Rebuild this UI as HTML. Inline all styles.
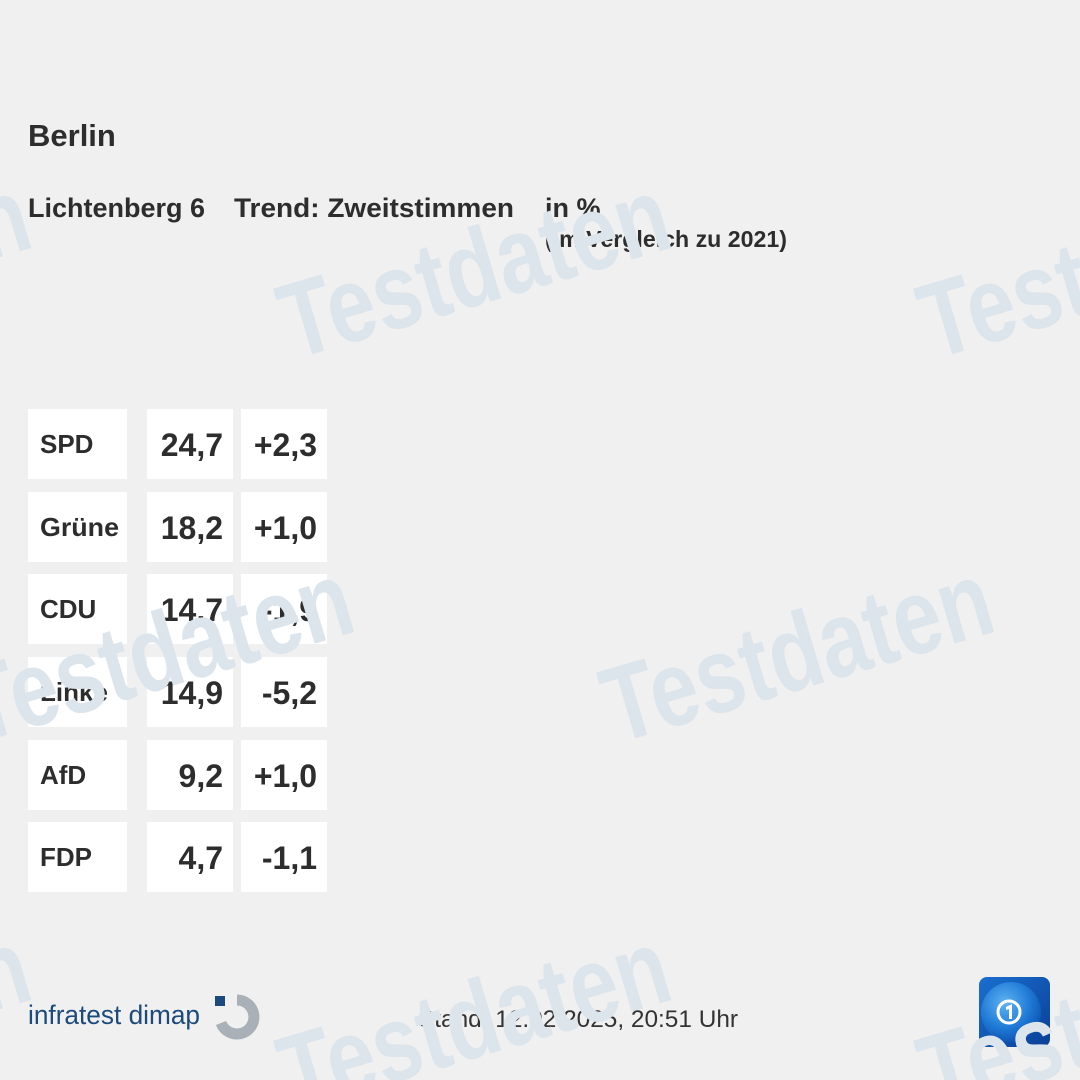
<!DOCTYPE html>
<html>
<head>
<meta charset="utf-8">
<style>
  html,body{margin:0;padding:0;background:#f0f0f0;}
  body{width:1080px;height:1080px;overflow:hidden;}
  svg{display:block;}
</style>
</head>
<body>
<svg width="1080" height="1080" viewBox="0 0 1080 1080" xmlns="http://www.w3.org/2000/svg">
  <defs>
    <linearGradient id="tsbg" x1="0" y1="0" x2="1" y2="1">
      <stop offset="0" stop-color="#1a6fd0"/>
      <stop offset="1" stop-color="#0a3f96"/>
    </linearGradient>
    <radialGradient id="globe" cx="0.4" cy="0.35" r="0.7">
      <stop offset="0" stop-color="#5fb4f2"/>
      <stop offset="0.6" stop-color="#1f7ad6"/>
      <stop offset="1" stop-color="#0d4fae"/>
    </radialGradient>
  </defs>
  <rect x="0" y="0" width="1080" height="1080" fill="#f0f0f0"/>

  <g font-family="'Liberation Sans', Arial, sans-serif" font-weight="bold" fill="#2d2d2d">
    <text x="28" y="146" font-size="31">Berlin</text>
    <text x="28" y="217" font-size="27">Lichtenberg 6</text>
    <text x="234" y="217" font-size="27" textLength="280" lengthAdjust="spacingAndGlyphs">Trend: Zweitstimmen</text>
    <text x="545" y="217" font-size="27">in %</text>
    <text x="545" y="247" font-size="23" textLength="242" lengthAdjust="spacingAndGlyphs">(im Vergleich zu 2021)</text>
  </g>

  <!-- table -->
  <g fill="#ffffff">
    <rect x="28" y="409" width="99" height="70"/><rect x="147" y="409" width="86" height="70"/><rect x="241" y="409" width="86" height="70"/>
    <rect x="28" y="492" width="99" height="70"/><rect x="147" y="492" width="86" height="70"/><rect x="241" y="492" width="86" height="70"/>
    <rect x="28" y="574" width="99" height="70"/><rect x="147" y="574" width="86" height="70"/><rect x="241" y="574" width="86" height="70"/>
    <rect x="28" y="657" width="99" height="70"/><rect x="147" y="657" width="86" height="70"/><rect x="241" y="657" width="86" height="70"/>
    <rect x="28" y="740" width="99" height="70"/><rect x="147" y="740" width="86" height="70"/><rect x="241" y="740" width="86" height="70"/>
    <rect x="28" y="822" width="99" height="70"/><rect x="147" y="822" width="86" height="70"/><rect x="241" y="822" width="86" height="70"/>
  </g>
  <g font-family="'Liberation Sans', Arial, sans-serif" font-weight="bold" fill="#2d2d2d" font-size="26">
    <text x="40" y="453">SPD</text>
    <text x="40" y="536" textLength="79" lengthAdjust="spacingAndGlyphs">Grüne</text>
    <text x="40" y="618">CDU</text>
    <text x="40" y="701">Linke</text>
    <text x="40" y="784">AfD</text>
    <text x="40" y="866">FDP</text>
  </g>
  <g font-family="'Liberation Sans', Arial, sans-serif" font-weight="bold" fill="#2d2d2d" font-size="32" text-anchor="end">
    <text x="223" y="456">24,7</text><text x="317" y="456">+2,3</text>
    <text x="223" y="539">18,2</text><text x="317" y="539">+1,0</text>
    <text x="223" y="621">14,7</text><text x="317" y="621">-1,9</text>
    <text x="223" y="704">14,9</text><text x="317" y="704">-5,2</text>
    <text x="223" y="787">9,2</text><text x="317" y="787">+1,0</text>
    <text x="223" y="869">4,7</text><text x="317" y="869">-1,1</text>
  </g>

  <!-- footer -->
  <text x="28" y="1024" font-family="'Liberation Sans', Arial, sans-serif" font-size="27" fill="#1d4a7c" textLength="172" lengthAdjust="spacingAndGlyphs">infratest dimap</text>
  <rect x="215" y="996" width="10" height="10" fill="#1d4a7c"/>
  <path d="M 237 1000 A 17 17 0 1 1 221 1023" fill="none" stroke="#a9b0b7" stroke-width="11"/>
  <text x="418" y="1027" font-family="'Liberation Sans', Arial, sans-serif" font-size="24.5" fill="#333333" textLength="320" lengthAdjust="spacingAndGlyphs">Stand: 12.02.2025, 20:51 Uhr</text>

  <!-- tagesschau logo -->
  <rect x="979" y="977" width="71" height="70" rx="8" fill="url(#tsbg)"/>
  <circle cx="1011" cy="1012" r="30" fill="url(#globe)"/>
  <circle cx="1009" cy="1012" r="11" fill="none" stroke="#ffffff" stroke-width="3"/>
  <path d="M1006 1007 L1012 1004 L1012 1019 L1009 1019 L1009 1009 L1006 1010 Z" fill="#ffffff"/>

  <!-- watermarks -->
  <g font-family="'Liberation Sans', Arial, sans-serif" font-weight="bold" font-size="86" fill="#dce4ec">
    <text transform="translate(-347,360) rotate(-16.5) scale(1,1.25)">Testdaten</text>
    <text transform="translate(293,360) rotate(-16.5) scale(1,1.25)">Testdaten</text>
    <text transform="translate(933,360) rotate(-16.5) scale(1,1.25)">Testdaten</text>
    <text transform="translate(-24,744) rotate(-16.5) scale(1,1.25)">Testdaten</text>
    <text transform="translate(616,744) rotate(-16.5) scale(1,1.25)">Testdaten</text>
    <text transform="translate(-347,1112) rotate(-16.5) scale(1,1.25)">Testdaten</text>
    <text transform="translate(293,1112) rotate(-16.5) scale(1,1.25)">Testdaten</text>
    <text transform="translate(933,1112) rotate(-16.5) scale(1,1.25)">Testdaten</text>
  </g>
</svg>
</body>
</html>
